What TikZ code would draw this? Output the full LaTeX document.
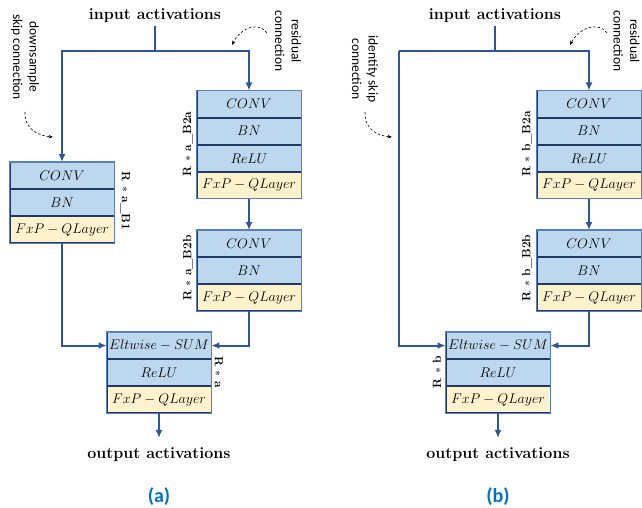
\RequirePackage{fix-cm}
\documentclass[tikz,border=0pt]{standalone}
\usepackage{fontspec}
\newfontfamily\carl{Carlito}
\usetikzlibrary{arrows.meta}
\definecolor{boxblue}{HTML}{BDD7EE}
\definecolor{boxyel}{HTML}{FFF2CC}
\definecolor{linkblue}{HTML}{2F5597}
\definecolor{rowline}{HTML}{1F3864}
\definecolor{edgeblue}{HTML}{5B7FB8}
\definecolor{capblue}{HTML}{0070C0}
\tikzset{
  layer/.style={draw=rowline, line width=0.9pt, fill=boxblue, minimum width=104pt,
    minimum height=26.2pt, inner sep=0pt, anchor=north, font=\fontsize{14}{16}\selectfont},
  qlayer/.style={layer, fill=boxyel},
  outline/.style={draw=edgeblue, line width=1.1pt},
  conn/.style={draw=linkblue, line width=2pt, -{Latex[length=8pt,width=7pt]}},
  plainlink/.style={draw=linkblue, line width=2pt},
  title/.style={font=\fontsize{16}{18}\selectfont\bfseries, anchor=base, inner sep=3pt},
  outtitle/.style={title, inner ysep=9pt},
  rlab/.style={font=\fontsize{12}{14}\selectfont\bfseries, inner sep=0pt},
  note/.style={font=\carl\fontsize{13.5}{16.5}\selectfont, align=center, inner sep=0pt},
  noteline/.style={draw=black, line width=0.6pt, dash pattern=on 2.5pt off 2pt, -{Stealth[length=4.5pt,width=3.5pt]}},
  caption/.style={font=\carl\fontsize{20}{24}\selectfont\bfseries, text=capblue},
}
\begin{document}
\begin{tikzpicture}[x=1pt,y=-1pt]
\useasboundingbox (0,0) rectangle (642,508);

% ================= panel (a) =================
\node[title] (ina) at (155,20) {input activations};
\coordinate (sa) at (155,51);

% B1 block
\node[layer] (a1c) at (62,162) {$CONV$};
\node[layer] (a1b) at (a1c.south) {$BN$};
\node[qlayer] (a1q) at (a1b.south) {$FxP - QLayer$};
\draw[outline] (a1c.north west) rectangle (a1q.south east);

% B2a block
\node[layer] (a2c) at (249,90.5) {$CONV$};
\node[layer] (a2b) at (a2c.south) {$BN$};
\node[layer] (a2r) at (a2b.south) {$ReLU$};
\node[qlayer] (a2q) at (a2r.south) {$FxP - QLayer$};
\draw[outline] (a2c.north west) rectangle (a2q.south east);

% B2b block
\node[layer] (a3c) at (249,230) {$CONV$};
\node[layer] (a3b) at (a3c.south) {$BN$};
\node[qlayer] (a3q) at (a3b.south) {$FxP - QLayer$};
\draw[outline] (a3c.north west) rectangle (a3q.south east);

% sum block
\node[layer] (as) at (159,332) {$Eltwise - SUM$};
\node[layer] (ar) at (as.south) {$ReLU$};
\node[qlayer] (aq) at (ar.south) {$FxP - QLayer$};
\draw[outline] (as.north west) rectangle (aq.south east);

\node[outtitle] (outa) at (159,458) {output activations};
\node[caption] (capa) at (159,497) {(a)};

\draw[plainlink] (ina.south) -- (sa);
\draw[conn] (sa) -| (a1c.north);
\draw[conn] (sa) -| (a2c.north);
\draw[conn] (a2q.south) -- (a3c.north);
\draw[conn] (a1q.south) |- (as.west);
\draw[conn] (a3q.south) |- (as.east);
\draw[conn] (aq.south) -- (outa.north);

\node[rlab, rotate=-90] (la1) at (125,201) {R $\ast$ a\_B1};
\node[rlab, rotate=90] (la2) at (188,144) {R $\ast$ a\_B2a};
\node[rlab, rotate=90] (la3) at (188,268) {R $\ast$ a\_B2b};
\node[rlab, rotate=-90] (la4) at (219,372) {R $\ast$ a};

\node[note, rotate=-90] (na1) at (25,57) {downsample\\skip connection};
\node[note, rotate=-90] (na2) at (288,41) {residual\\connection};
\coordinate (da1s) at (25,112);
\coordinate (da1e) at (53,137);
\draw[noteline] (da1s) .. controls (24,130) and (40,136) .. (da1e);
\coordinate (da2s) at (267,33);
\coordinate (da2e) at (232,45);
\draw[noteline] (da2s) .. controls (260,22) and (242,26) .. (da2e);

% ================= panel (b) =================
\node[title] (inb) at (495,20) {input activations};
\coordinate (sb) at (495,51);
\coordinate (lb) at (399,51);

\node[layer] (b2c) at (589,90.5) {$CONV$};
\node[layer] (b2b) at (b2c.south) {$BN$};
\node[layer] (b2r) at (b2b.south) {$ReLU$};
\node[qlayer] (b2q) at (b2r.south) {$FxP - QLayer$};
\draw[outline] (b2c.north west) rectangle (b2q.south east);

\node[layer] (b3c) at (589,230) {$CONV$};
\node[layer] (b3b) at (b3c.south) {$BN$};
\node[qlayer] (b3q) at (b3b.south) {$FxP - QLayer$};
\draw[outline] (b3c.north west) rectangle (b3q.south east);

\node[layer] (bs) at (498,332) {$Eltwise - SUM$};
\node[layer] (br) at (bs.south) {$ReLU$};
\node[qlayer] (bq) at (br.south) {$FxP - QLayer$};
\draw[outline] (bs.north west) rectangle (bq.south east);

\node[outtitle] (outb) at (498,458) {output activations};
\node[caption] (capb) at (498,497) {(b)};

\draw[plainlink] (inb.south) -- (sb);
\draw[plainlink] (sb) -- (lb);
\draw[conn] (lb) |- (bs.west);
\draw[conn] (sb) -| (b2c.north);
\draw[conn] (b2q.south) -- (b3c.north);
\draw[conn] (b3q.south) |- (bs.east);
\draw[conn] (bq.south) -- (outb.north);

\node[rlab, rotate=90] (lb2) at (527,144) {R $\ast$ b\_B2a};
\node[rlab, rotate=90] (lb3) at (527,268) {R $\ast$ b\_B2b};
\node[rlab, rotate=90] (lb4) at (437,372) {R $\ast$ b};

\node[note, rotate=-90] (nb1) at (365,69) {identity skip\\connection};
\node[note, rotate=-90] (nb2) at (626.5,41) {residual\\connection};
\coordinate (db1s) at (365,112);
\coordinate (db1e) at (392,137);
\draw[noteline] (db1s) .. controls (364,130) and (379,136) .. (db1e);
\coordinate (db2s) at (607,33);
\coordinate (db2e) at (570,45);
\draw[noteline] (db2s) .. controls (600,22) and (580,26) .. (db2e);
\end{tikzpicture}
\end{document}
